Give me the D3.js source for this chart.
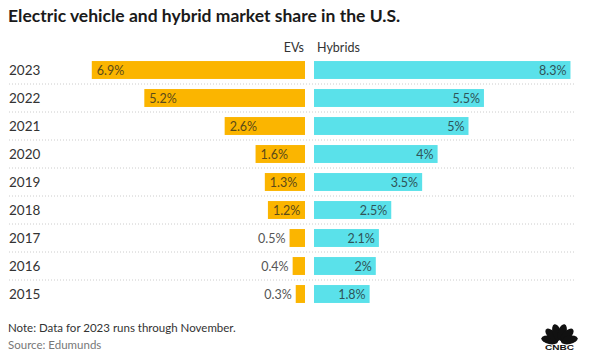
<!DOCTYPE html>
<html>
<head>
<meta charset="utf-8">
<script src="https://cdn.jsdelivr.net/npm/d3@7"></script>
<style>
  body { margin: 0; background: #fff; }
  svg { font-family: Lato, "Open Sans", sans-serif; }
</style>
</head>
<body>
<svg id="chart" width="589" height="363"></svg>
<script>
const years = ['2023', '2022', '2021', '2020', '2019', '2018', '2017', '2016', '2015'];
const evShare = [6.9, 5.2, 2.6, 1.6, 1.3, 1.2, 0.5, 0.4, 0.3];
const hybridShare = [8.3, 5.5, 5, 4, 3.5, 2.5, 2.1, 2, 1.8];
const seriesNames = ['EVs', 'Hybrids'];

const svg = d3.select('svg#chart');
const evRight = 305;
const hybLeft = 314;

// title
svg.append('text')
    .attr('x', 8)
    .attr('y', 22)
    .style('font-size', '17.5px')
    .style('font-weight', 'bold')
    .style('fill', '#1a1a1a')
    .text('Electric vehicle and hybrid market share in the U.S.');

const xScale = d3.scaleLinear()
    .domain([0, 10])
    .range([0, 309]);

const yScale = d3.scaleBand()
    .domain(years)
    .range([56, 308])
    .paddingInner(0.36)
    .paddingOuter(0.18);

// series headers
svg.append('text')
    .attr('x', evRight - 1)
    .attr('y', 52)
    .attr('text-anchor', 'end')
    .style('font-size', '12.5px')
    .style('fill', '#333')
    .text(seriesNames[0]);

svg.append('text')
    .attr('x', hybLeft + 3)
    .attr('y', 52)
    .style('font-size', '12.5px')
    .style('fill', '#333')
    .text(seriesNames[1]);

// dotted row separators
svg.append('g')
    .selectAll('line')
    .data(years.slice(1))
    .enter()
    .append('line')
    .attr('x1', 9)
    .attr('x2', 574)
    .attr('y1', d => yScale(d) - yScale.step() * yScale.paddingInner() / 2)
    .attr('y2', d => yScale(d) - yScale.step() * yScale.paddingInner() / 2)
    .attr('stroke', '#ccc')
    .attr('stroke-width', 1)
    .attr('stroke-dasharray', '1,2');

// year labels
svg.append('g')
    .selectAll('text')
    .data(years)
    .enter()
    .append('text')
    .attr('x', 9)
    .attr('y', d => yScale(d) + yScale.bandwidth() / 2 + 4.5)
    .style('font-size', '13.5px')
    .style('fill', '#333')
    .text(d => d);

const fmt = v => v + '%';

// EV bars
const evRows = years.map((y, i) => ({ year: y, value: evShare[i] }));
svg.append('g')
    .selectAll('rect')
    .data(evRows)
    .enter()
    .append('rect')
    .attr('x', d => evRight - xScale(d.value))
    .attr('y', d => yScale(d.year))
    .attr('width', d => xScale(d.value))
    .attr('height', yScale.bandwidth())
    .attr('fill', '#fbb500');

const evLabels = svg.append('g')
    .selectAll('text')
    .data(evRows)
    .enter()
    .append('text')
    .attr('y', d => yScale(d.year) + yScale.bandwidth() / 2 + 4.5)
    .style('font-size', '12.5px')
    .text(d => fmt(d.value));

evLabels.each(function (d) {
    const t = d3.select(this);
    const w = this.getComputedTextLength();
    const barW = xScale(d.value);
    if (barW >= w + 8) {
        t.attr('x', evRight - barW + 5).style('fill', '#5a4a1a');
    } else {
        t.attr('x', evRight - barW - 4).attr('text-anchor', 'end').style('fill', '#555');
    }
});

// hybrid bars
const hybRows = years.map((y, i) => ({ year: y, value: hybridShare[i] }));
svg.append('g')
    .selectAll('rect')
    .data(hybRows)
    .enter()
    .append('rect')
    .attr('x', hybLeft)
    .attr('y', d => yScale(d.year))
    .attr('width', d => xScale(d.value))
    .attr('height', yScale.bandwidth())
    .attr('fill', '#5ae1ea');

svg.append('g')
    .selectAll('text')
    .data(hybRows)
    .enter()
    .append('text')
    .attr('x', d => hybLeft + xScale(d.value) - 4)
    .attr('y', d => yScale(d.year) + yScale.bandwidth() / 2 + 4.5)
    .attr('text-anchor', 'end')
    .style('font-size', '12.5px')
    .style('fill', '#2f5458')
    .text(d => fmt(d.value));

// footnotes
svg.append('text')
    .attr('x', 8)
    .attr('y', 332)
    .style('font-size', '11.5px')
    .style('fill', '#333')
    .text('Note: Data for 2023 runs through November.');

svg.append('text')
    .attr('x', 8)
    .attr('y', 348.5)
    .style('font-size', '11.5px')
    .style('fill', '#777')
    .text('Source: Edumunds');

// CNBC peacock logo
const logo = svg.append('g').attr('transform', 'translate(559.5,342)');
const feathers = [-78, -47, -16, 16, 47, 78];
logo.selectAll('ellipse')
    .data(feathers)
    .enter()
    .append('ellipse')
    .attr('cx', 0)
    .attr('cy', -10)
    .attr('rx', 4.2)
    .attr('ry', 8.5)
    .attr('fill', '#111')
    .attr('transform', d => `rotate(${d})`);
logo.append('text')
    .attr('x', -14.5)
    .attr('y', 8)
    .attr('textLength', 29)
    .attr('lengthAdjust', 'spacingAndGlyphs')
    .style('font-size', '8px')
    .style('font-weight', '900')
    .style('font-family', '"Liberation Sans", Arial, sans-serif')
    .style('fill', '#111')
    .text('CNBC');
</script>
</body>
</html>
